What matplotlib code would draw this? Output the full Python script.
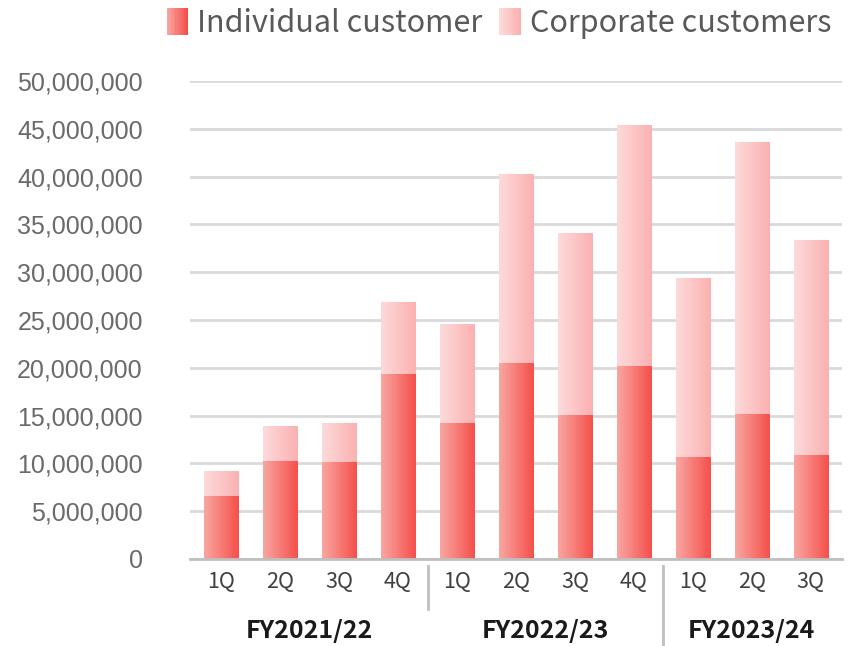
import numpy as np
import matplotlib
matplotlib.use("Agg")
import matplotlib.pyplot as plt
from matplotlib.colors import LinearSegmentedColormap
from matplotlib.legend_handler import HandlerBase
from matplotlib.patches import Rectangle, Patch
from matplotlib.ticker import FuncFormatter

plt.rcParams['font.family'] = ['Noto Sans CJK JP', 'DejaVu Sans']

quarters = ["1Q", "2Q", "3Q", "4Q", "1Q", "2Q", "3Q", "4Q", "1Q", "2Q", "3Q"]
years = ["FY2021/22", "FY2022/23", "FY2023/24"]
year_sizes = [4, 4, 3]
individual = [6.6, 10.25, 10.15, 19.35, 14.2, 20.5, 15.1, 20.2, 10.7, 15.2, 10.9]
total = [9.2, 13.9, 14.2, 26.8, 24.5, 40.2, 34.1, 45.4, 29.4, 43.6, 33.3]
individual = [v * 1e6 for v in individual]
corporate = [t * 1e6 - i for t, i in zip(total, individual)]

ind_cmap = LinearSegmentedColormap.from_list("ind", ["#F9A6A2", "#F5504B"])
corp_cmap = LinearSegmentedColormap.from_list("corp", ["#FDDADA", "#FBB1B1"])

fig = plt.figure(figsize=(8.5, 6.46), dpi=100)
ax = fig.add_axes([0.2235, 0.1347, 0.767, 0.74])

x = np.arange(len(quarters))
width = 0.58
grad = np.linspace(0, 1, 64).reshape(1, -1)


def grad_bar(xc, bottom, height, cmap):
    ax.imshow(grad, cmap=cmap, aspect="auto", interpolation="bicubic",
              extent=(xc - width / 2, xc + width / 2, bottom, bottom + height),
              zorder=3)


for xi, i_val, c_val in zip(x, individual, corporate):
    grad_bar(xi, 0, i_val, ind_cmap)
    grad_bar(xi, i_val, c_val, corp_cmap)

ax.set_xlim(-0.53, len(quarters) - 0.47)
ax.set_ylim(0, 50e6)
ax.set_yticks(np.arange(0, 50e6 + 1, 5e6))
ax.yaxis.set_major_formatter(FuncFormatter(lambda v, p: f"{int(v):,}"))
ax.grid(axis="y", color="#D9D9D9", linewidth=2, zorder=0)
ax.set_axisbelow(True)
for s in ["top", "right", "left"]:
    ax.spines[s].set_visible(False)
ax.spines["bottom"].set_color("#BFBFBF")
ax.spines["bottom"].set_linewidth(2)
ax.spines["bottom"].set_zorder(4)
ax.tick_params(axis="y", length=0, pad=34, labelsize=18, labelcolor="#6A6A6A")
for lab in ax.get_yticklabels():
    lab.set_family(["Liberation Sans"])
ax.set_xticks(x)
ax.set_xticklabels(quarters)
ax.tick_params(axis="x", length=0, pad=9, labelsize=15.5, labelcolor="#404040")

# fiscal year labels and separators
trans = ax.get_xaxis_transform()
start = 0
for k, (yr, n) in enumerate(zip(years, year_sizes)):
    center = start + (n - 1) / 2
    ax.text(center, -0.15, yr, transform=trans, ha="center", va="center",
            fontsize=18, fontweight="bold", color="#1A1A1A")
    if k > 0:
        y_end = -0.105 if k == 1 else -0.18
        ax.plot([start - 0.5, start - 0.5], [-0.015, y_end], transform=trans,
                color="#BFBFBF", linewidth=2, clip_on=False)
    start += n


class GradHandler(HandlerBase):
    def __init__(self, cmap):
        super().__init__()
        self.cmap = cmap

    def create_artists(self, legend, orig_handle, xdescent, ydescent,
                       width, height, fontsize, trans):
        n = 12
        w = height * 1.0
        arts = []
        for j in range(n):
            r = Rectangle((-xdescent + width - w + j * w / n, -ydescent - 2),
                          w / n + 0.3, height + 4,
                          facecolor=self.cmap(j / (n - 1)), edgecolor="none",
                          transform=trans)
            arts.append(r)
        return arts


h1 = Patch(label="Individual customer")
h2 = Patch(label="Corporate customers")
fig.legend(handles=[h1, h2], loc="center", bbox_to_anchor=(0.586, 0.963),
           ncol=2, frameon=False, fontsize=22, labelcolor="#595959",
           handler_map={h1: GradHandler(ind_cmap), h2: GradHandler(corp_cmap)},
           handlelength=0.75, handletextpad=0.3, columnspacing=0.5)

fig.savefig("out.png", dpi=100)
